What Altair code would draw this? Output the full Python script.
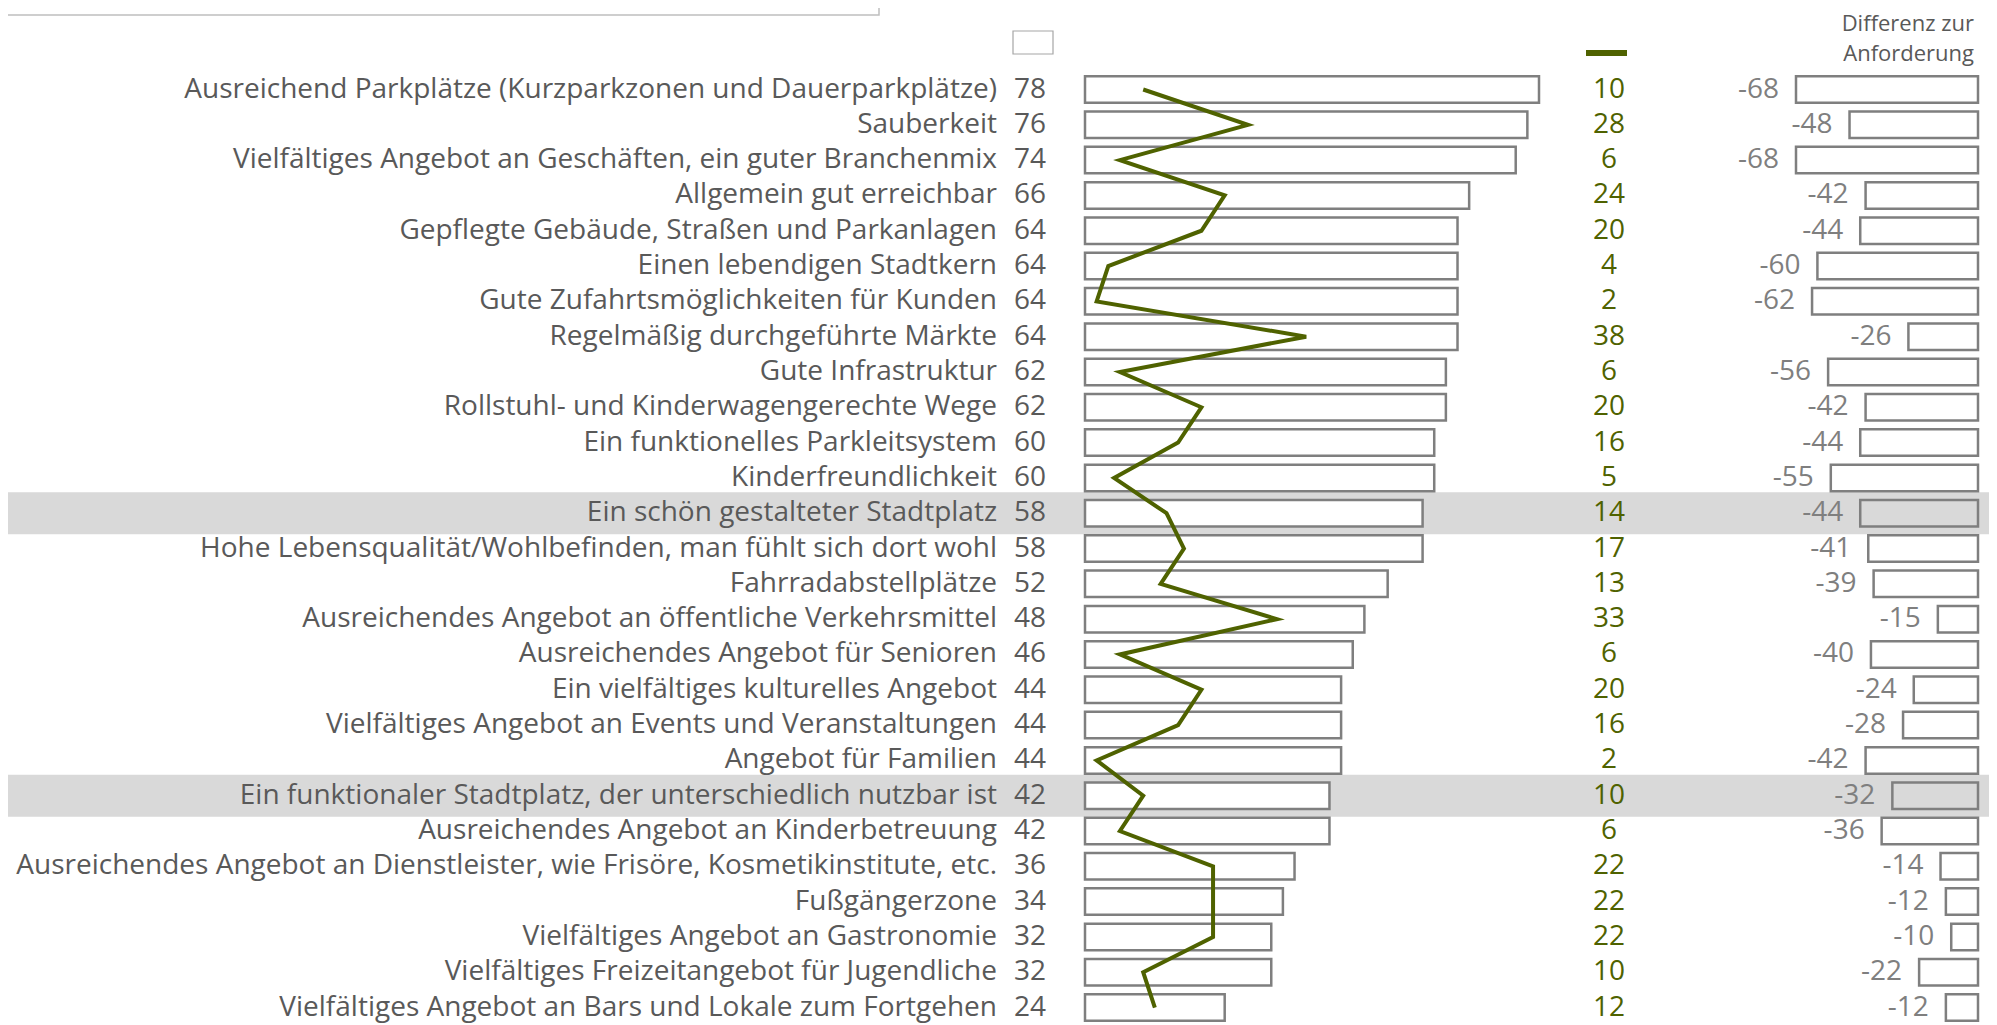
import altair as alt
import pandas as pd

categories = [
    "Ausreichend Parkplätze (Kurzparkzonen und Dauerparkplätze)",
    "Sauberkeit",
    "Vielfältiges Angebot an Geschäften, ein guter Branchenmix",
    "Allgemein gut erreichbar",
    "Gepflegte Gebäude, Straßen und Parkanlagen",
    "Einen lebendigen Stadtkern",
    "Gute Zufahrtsmöglichkeiten für Kunden",
    "Regelmäßig durchgeführte Märkte",
    "Gute Infrastruktur",
    "Rollstuhl- und Kinderwagengerechte Wege",
    "Ein funktionelles Parkleitsystem",
    "Kinderfreundlichkeit",
    "Ein schön gestalteter Stadtplatz",
    "Hohe Lebensqualität/Wohlbefinden, man fühlt sich dort wohl",
    "Fahrradabstellplätze",
    "Ausreichendes Angebot an öffentliche Verkehrsmittel",
    "Ausreichendes Angebot für Senioren",
    "Ein vielfältiges kulturelles Angebot",
    "Vielfältiges Angebot an Events und Veranstaltungen",
    "Angebot für Familien",
    "Ein funktionaler Stadtplatz, der unterschiedlich nutzbar ist",
    "Ausreichendes Angebot an Kinderbetreuung",
    "Ausreichendes Angebot an Dienstleister, wie Frisöre, Kosmetikinstitute, etc.",
    "Fußgängerzone",
    "Vielfältiges Angebot an Gastronomie",
    "Vielfältiges Freizeitangebot für Jugendliche",
    "Vielfältiges Angebot an Bars und Lokale zum Fortgehen",
]
wichtigkeit = [78, 76, 74, 66, 64, 64, 64, 64, 62, 62, 60, 60, 58, 58, 52, 48, 46, 44, 44, 44, 42, 42, 36, 34, 32, 32, 24]
erfuellung = [10, 28, 6, 24, 20, 4, 2, 38, 6, 20, 16, 5, 14, 17, 13, 33, 6, 20, 16, 2, 10, 6, 22, 22, 22, 10, 12]
differenz = [-68, -48, -68, -42, -44, -60, -62, -26, -56, -42, -44, -55, -44, -41, -39, -15, -40, -24, -28, -42, -32, -36, -14, -12, -10, -22, -12]
highlighted = [
    "Ein schön gestalteter Stadtplatz",
    "Ein funktionaler Stadtplatz, der unterschiedlich nutzbar ist",
]
header_lines = ["Differenz zur", "Anforderung"]

df = pd.DataFrame({
    "cat": categories,
    "wich": wichtigkeit,
    "erf": erfuellung,
    "diff": differenz,
    "idx": list(range(len(categories))),
})
df["hl"] = df["cat"].isin(highlighted)
df["wich_txt"] = df["wich"].astype(str)
df["erf_txt"] = df["erf"].astype(str)
df["diff_txt"] = df["diff"].astype(str)

FONT = "Open Sans"
FS = 28
GRAY_TXT = "#595959"
GRAY_LBL = "#7f7f7f"
BAR_STROKE = "#7f7f7f"
GREEN = "#4f6200"
W, H = 1981, 1017

yscale = alt.Scale(domain=categories, range=[63.85, 1017.2], paddingInner=0, paddingOuter=0)
Y = alt.Y("cat:N", scale=yscale, axis=None, sort=categories)
main_scale = alt.Scale(domain=[0, 78], range=[1077, 1531], zero=True, nice=False)
diff_scale = alt.Scale(domain=[-68, 0], range=[1788, 1970], nice=False)

base = alt.Chart(df)

bands = base.transform_filter("datum.hl").mark_bar(height=42, color="#d9d9d9").encode(
    x=alt.value(0), x2=alt.value(W), y=Y
)

main_bars = base.mark_bar(height=26.5, fill="white", stroke=BAR_STROKE, strokeWidth=2.5).encode(
    x=alt.X("wich:Q", scale=main_scale, axis=None), y=Y
)

line = base.mark_line(color=GREEN, strokeWidth=4).encode(
    x=alt.X("erf:Q", scale=main_scale, axis=None), y=Y, order="idx:O"
)

labels = base.mark_text(align="right", baseline="middle", font=FONT, fontSize=FS, color=GRAY_TXT).encode(
    x=alt.value(989), y=Y, text="cat:N"
)
wich_labels = base.mark_text(align="right", baseline="middle", font=FONT, fontSize=FS, color=GRAY_TXT).encode(
    x=alt.value(1038), y=Y, text="wich_txt:N"
)
erf_labels = base.mark_text(align="center", baseline="middle", font=FONT, fontSize=FS, color=GREEN).encode(
    x=alt.value(1601), y=Y, text="erf_txt:N"
)

diff_bars = base.mark_bar(height=26.5, stroke=BAR_STROKE, strokeWidth=2.5).encode(
    x=alt.X("diff:Q", scale=diff_scale, axis=None),
    x2=alt.datum(0),
    y=Y,
    fill=alt.condition("datum.hl", alt.value("#d9d9d9"), alt.value("white")),
)
diff_labels = base.mark_text(align="right", baseline="middle", font=FONT, fontSize=FS, color=GRAY_LBL, dx=-17).encode(
    x=alt.X("diff:Q", scale=diff_scale, axis=None), y=Y, text="diff_txt:N"
)

one = alt.Chart(pd.DataFrame({"a": [0]}))
hdr_df = pd.DataFrame({"t": header_lines, "k": [0, 1]})
header = alt.Chart(hdr_df).mark_text(align="right", baseline="middle", font=FONT, fontSize=22, color=GRAY_TXT).encode(
    x=alt.value(1966),
    y=alt.Y("k:Q", scale=alt.Scale(domain=[0, 1], range=[16, 46], nice=False, zero=False), axis=None),
    text="t:N",
)
legend_box = one.mark_rect(fill="white", stroke="#a6a6a6", strokeWidth=1.2).encode(
    x=alt.value(1005), x2=alt.value(1045), y=alt.value(23), y2=alt.value(46)
)
legend_line = one.mark_rule(color=GREEN, strokeWidth=6).encode(
    x=alt.value(1578), x2=alt.value(1619), y=alt.value(45)
)
top_box = one.mark_rect(fill="white", stroke="#bfbfbf", strokeWidth=1.5).encode(
    x=alt.value(-6), x2=alt.value(871), y=alt.value(-30), y2=alt.value(7)
)

chart = alt.layer(
    top_box, bands, main_bars, line, labels, wich_labels, erf_labels, diff_bars, diff_labels,
    header, legend_box, legend_line,
).resolve_scale(x="independent", y="independent").properties(
    width=W, height=H, autosize=alt.AutoSizeParams(type="none"), padding=0
).configure_view(stroke=None)

chart.save("out.html", embed_options={"renderer": "svg", "actions": False})
